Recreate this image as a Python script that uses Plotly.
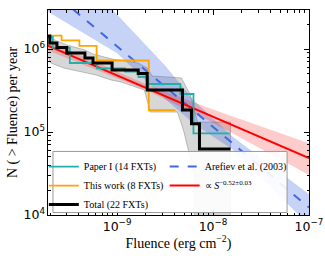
import plotly.graph_objects as go

# ---- data ----
# Total (22 FXTs): step points (fluence, N(>S)) ; drawn with hv steps
total_S = [1.8e-10, 1.99e-10, 2.36e-10, 2.99e-10, 4.62e-10, 5.61e-10, 8.87e-10,
           1.66e-9, 2.06e-9, 4.80e-9, 5.96e-9, 7.22e-9, 1.52e-8]
total_N = [1.43e6, 1.18e6, 1.04e6, 8.95e5, 7.79e5, 6.78e5, 5.58e5,
           5.07e5, 3.21e5, 1.84e5, 1.26e5, 6.24e4, 6.24e4]

# Paper I (14 FXTs)
paper1_S = [1.8e-10, 2.14e-10, 3.22e-10, 6.18e-10, 1.21e-9, 1.67e-9, 2.11e-9,
            4.57e-9, 6.25e-9, 1.49e-8]
paper1_N = [1.40e6, 1.04e6, 6.78e5, 5.85e5, 5.33e5, 4.60e5, 3.79e5,
            2.87e5, 9.64e4, 9.64e4]

# This work (8 FXTs)
thiswork_S = [1.8e-10, 2.64e-10, 4.05e-10, 6.12e-10, 2.14e-9, 4.05e-9]
thiswork_N = [1.45e6, 1.27e6, 1.09e6, 7.27e5, 1.84e5, 1.84e5]

# grey uncertainty band of the total
grey_up_S = [1.89e-10, 2.36e-10, 2.99e-10, 4.62e-10, 5.61e-10, 8.87e-10, 1.66e-9,
             2.06e-9, 2.32e-9, 4.68e-9, 5.81e-9, 6.89e-9, 1.52e-8]
grey_up_N = [1.43e6, 1.25e6, 1.12e6, 9.72e5, 8.71e5, 7.58e5, 6.78e5,
             5.90e5, 4.73e5, 4.48e5, 2.79e5, 1.32e5, 1.32e5]
grey_lo_S = [1.89e-10, 2.04e-10, 2.79e-10, 4.20e-10, 6.03e-10, 8.65e-10, 1.10e-9,
             1.92e-9, 2.22e-9, 4.25e-9, 4.91e-9, 6.40e-9, 6.40e-9, 1.52e-8]
grey_lo_N = [8.24e5, 6.78e5, 5.90e5, 5.28e5, 4.86e5, 4.24e5, 4.00e5,
             3.21e5, 1.74e5, 1.74e5, 1.06e5, 3.03e4, 5e3, 5e3]

# power-law fit  ~ S^-0.52
fit_S = [1.9e-10, 1e-7]
fit_N = [1.10e6, 4.86e4]
fit_band_S = [1.9e-10, 1e-9, 2e-9, 1e-8, 1e-7]
fit_band_hi = [1.26e6, 5.30e5, 3.75e5, 1.87e5, 7.31e4]
fit_band_lo = [0.96e6, 4.45e5, 3.20e5, 1.29e5, 3.03e4]

# Arefiev et al. (2003)
aref_S = [1.8e-10, 1e-7]
aref_N = [5.7e6, 1.23e4]
aref_band_S = [1.9e-10, 1e-9, 3.16e-9, 6.31e-9, 1.58e-8, 1e-7]
aref_band_hi = [2.0e7, 2.63e6, 6.31e5, 2.40e5, 8.9e4, 1.78e4]
aref_band_lo = [2.82e6, 8.91e5, 2.51e5, 1.26e5, 6.2e4, 7.6e3]

SERIF = "Liberation Serif"

fig = go.Figure()

# bands
fig.add_trace(go.Scatter(x=grey_up_S + grey_lo_S[::-1], y=grey_up_N + grey_lo_N[::-1],
                         fill="toself", fillcolor="rgba(140,140,140,0.35)",
                         line=dict(color="rgba(110,110,110,0.5)", width=0.8),
                         mode="lines", showlegend=False, hoverinfo="skip"))
fig.add_trace(go.Scatter(x=aref_band_S + aref_band_S[::-1], y=aref_band_hi + aref_band_lo[::-1],
                         fill="toself", fillcolor="rgba(65,105,225,0.3)",
                         line=dict(width=0), mode="lines", showlegend=False, hoverinfo="skip"))
fig.add_trace(go.Scatter(x=fit_band_S + fit_band_S[::-1], y=fit_band_hi + fit_band_lo[::-1],
                         fill="toself", fillcolor="rgba(255,0,0,0.2)",
                         line=dict(width=0), mode="lines", showlegend=False, hoverinfo="skip"))

# lines
fig.add_trace(go.Scatter(x=aref_S, y=aref_N, mode="lines", name="Arefiev et al. (2003)",
                         line=dict(color="#4169e1", width=2, dash="dash"),
                         legend="legend2", legendrank=1))
fig.add_trace(go.Scatter(x=fit_S, y=fit_N, mode="lines",
                         name="∝ <i>S</i><sup>−0.52±0.03</sup>",
                         line=dict(color="red", width=2), legend="legend2", legendrank=2))
fig.add_trace(go.Scatter(x=thiswork_S, y=thiswork_N, mode="lines", name="This work (8 FXTs)",
                         line=dict(color="orange", width=1.8, shape="hv"),
                         legend="legend", legendrank=2))
fig.add_trace(go.Scatter(x=paper1_S, y=paper1_N, mode="lines", name="Paper I (14 FXTs)",
                         line=dict(color="#20b2aa", width=1.8, shape="hv"),
                         legend="legend", legendrank=1))
fig.add_trace(go.Scatter(x=total_S, y=total_N, mode="lines", name="Total (22 FXTs)",
                         line=dict(color="black", width=3, shape="hv"),
                         legend="legend", legendrank=3))

axis_common = dict(type="log", showline=True, linecolor="black", linewidth=1, mirror="allticks",
                   ticks="inside", ticklen=5, tickcolor="black", showgrid=False, zeroline=False,
                   exponentformat="power", dtick=1,
                   minor=dict(ticks="inside", ticklen=2.5, tickcolor="black", showgrid=False),
                   tickfont=dict(family="DejaVu Sans", size=10, color="black"))

fig.update_xaxes(**axis_common, range=[-9.72, -7.0],
                 title=dict(text="Fluence (erg cm<sup>−2</sup>)",
                            font=dict(family=SERIF, size=14, color="black"), standoff=2))
fig.update_yaxes(**axis_common, range=[4.0, 6.47],
                 title=dict(text="N ( > Fluence) per year",
                            font=dict(family=SERIF, size=14, color="black"), standoff=2))

leg_common = dict(orientation="v", xanchor="left", yanchor="top",
                  bgcolor="rgba(0,0,0,0)", borderwidth=0,
                  font=dict(family=SERIF, size=10, color="black"),
                  itemwidth=30, tracegroupgap=0, traceorder="normal")

fig.update_layout(
    width=325, height=260,
    margin=dict(l=48, r=16, t=10, b=45, autoexpand=False),
    paper_bgcolor="white", plot_bgcolor="white",
    legend=dict(**leg_common, x=-0.016, y=0.307),
    legend2=dict(**leg_common, x=0.447, y=0.307),
    shapes=[dict(type="rect", xref="paper", yref="paper", x0=0.019, x1=0.916,
                 y0=0.012, y1=0.31, layer="above",
                 fillcolor="rgba(255,255,255,0.9)", line=dict(color="#999", width=1))],
)

fig.write_html("out.html", config={"displayModeBar": False},
               post_script="document.body.style.margin='0';document.body.style.overflow='hidden';")
